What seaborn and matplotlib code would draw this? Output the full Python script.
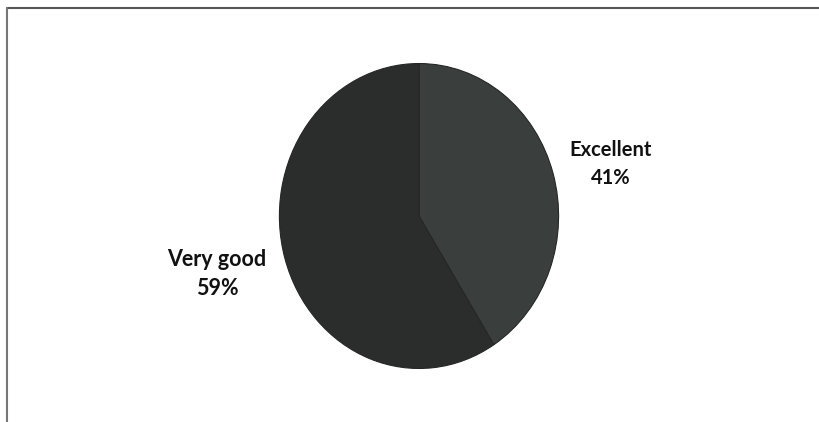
import matplotlib
matplotlib.use('Agg')
import matplotlib.pyplot as plt
import seaborn as sns
from matplotlib.lines import Line2D

categories = ['Excellent', 'Very good']
shares = [41, 59]
slice_colors = ['#3a3e3d', '#2a2d2c']

sns.set_theme(style='white')
plt.rcParams['font.family'] = ['Lato', 'DejaVu Sans']

W, H = 820, 422
fig = plt.figure(figsize=(W / 100, H / 100), dpi=100)
fig.patch.set_facecolor('white')

# pie is slightly taller than wide in the scan
cx, cy, rx, ry = 419, 216, 141, 154
ax = fig.add_axes([(cx - rx) / W, (H - cy - ry) / H, 2 * rx / W, 2 * ry / H])
ax.pie(shares, colors=slice_colors, startangle=90, counterclock=False,
       wedgeprops=dict(edgecolor='#252726', linewidth=0.8))
ax.set_aspect('auto')
ax.set_xlim(-1.01, 1.01)
ax.set_ylim(-1.01, 1.01)
ax.axis('off')

# labels
label_pos = {'Excellent': (611, 164), 'Very good': (217, 274)}
label_size = {'Excellent': 14.5, 'Very good': 15.5}
for name, val in zip(categories, shares):
    px, py = label_pos[name]
    fig.text(px / W, 1 - py / H, f'{name}\n{val}%', ha='center', va='center',
             fontsize=label_size[name], fontweight='bold', color='#111111',
             linespacing=1.5)

# chart frame (top and left edges visible)
fig.add_artist(Line2D([7 / W, 1], [1 - 8 / H, 1 - 8 / H], color='#555555', lw=1.5))
fig.add_artist(Line2D([7 / W, 7 / W], [0, 1 - 8 / H], color='#777777', lw=1.5))

fig.savefig('out.png', dpi=100)
